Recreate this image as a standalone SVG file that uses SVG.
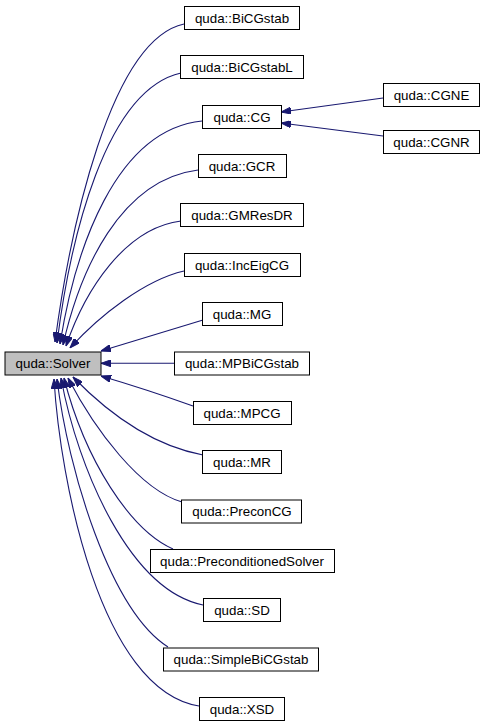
<svg xmlns="http://www.w3.org/2000/svg" width="486" height="727" viewBox="0 0 486 727">
<style>
.n rect{fill:#fff;stroke:#000;stroke-width:1}
.n text{font-family:"Liberation Sans",Arial,sans-serif;font-size:13.33px;text-anchor:middle;fill:#000}
#solver rect{fill:#bfbfbf}
.e path{fill:none;stroke:#191970;stroke-width:1.1;marker-start:url(#ah)}
</style>
<defs>
<marker id="ah" viewBox="0 0 10 7" refX="10" refY="3.5" markerWidth="10" markerHeight="7" markerUnits="userSpaceOnUse" orient="auto-start-reverse">
<polygon points="0,0 10,3.5 0,7" fill="#191970" stroke="#191970"/>
</marker>
</defs>
<rect width="486" height="727" fill="#fff"/>
<g class="e" id="edges">
<path d="M55,342 C70,230 110,40 184,24"/>
<path d="M57,343 C70,240 105,90 181,73"/>
<path d="M60,344 C75,250 115,130 202,121"/>
<path d="M63,345 C80,270 120,180 198,170"/>
<path d="M66,346 C85,290 125,228 181,221"/>
<path d="M70,348 C100,315 145,280 184,271"/>
<path d="M101,351 L203,320"/>
<path d="M101,363.3 L174,363.3"/>
<path d="M101,376 C135,386 165,396 193,406"/>
<path d="M73,377 C105,410 150,445 203,455"/>
<path d="M68,378 C95,430 140,490 182,502"/>
<path d="M64,378 C85,460 130,530 173,549"/>
<path d="M61,378 C78,470 130,590 203,605"/>
<path d="M57,379 C68,470 110,610 168,647"/>
<path d="M54,379 C60,480 100,690 199,706"/>
<path d="M281,112 L383,98"/>
<path d="M281,123 L383,136"/>
</g>
<g class="n" id="solver"><rect x="5" y="352" width="96" height="23"/><text x="53" y="368">quda::Solver</text></g>
<g class="n" id="n0"><rect x="184.5" y="6.5" width="115" height="23"/><text x="242" y="22.5">quda::BiCGstab</text></g>
<g class="n" id="n1"><rect x="180.5" y="55.5" width="123" height="23"/><text x="242" y="71.5">quda::BiCGstabL</text></g>
<g class="n" id="n2"><rect x="202.5" y="105.5" width="79" height="23"/><text x="242" y="121.5">quda::CG</text></g>
<g class="n" id="n3"><rect x="198.5" y="154.5" width="88" height="23"/><text x="242" y="170.5">quda::GCR</text></g>
<g class="n" id="n4"><rect x="180.5" y="203.5" width="123" height="23"/><text x="242" y="219.5">quda::GMResDR</text></g>
<g class="n" id="n5"><rect x="184.5" y="253.5" width="116" height="23"/><text x="242" y="269.5">quda::IncEigCG</text></g>
<g class="n" id="n6"><rect x="202.5" y="302.5" width="80" height="23"/><text x="242" y="318.5">quda::MG</text></g>
<g class="n" id="n7"><rect x="174.5" y="352" width="135" height="23"/><text x="242" y="368">quda::MPBiCGstab</text></g>
<g class="n" id="n8"><rect x="193.5" y="401.5" width="98" height="23"/><text x="242" y="417.5">quda::MPCG</text></g>
<g class="n" id="n9"><rect x="202.5" y="450.5" width="79" height="23"/><text x="242" y="466.5">quda::MR</text></g>
<g class="n" id="n10"><rect x="181.5" y="500" width="120" height="23"/><text x="242" y="516">quda::PreconCG</text></g>
<g class="n" id="n11"><rect x="150.5" y="549.5" width="184" height="23"/><text x="242" y="565.5">quda::PreconditionedSolver</text></g>
<g class="n" id="n12"><rect x="203.5" y="598.5" width="77" height="23"/><text x="242" y="614.5">quda::SD</text></g>
<g class="n" id="n13"><rect x="163.5" y="648" width="155" height="23"/><text x="241" y="664">quda::SimpleBiCGstab</text></g>
<g class="n" id="n14"><rect x="199.5" y="697.5" width="85" height="23"/><text x="242" y="713.5">quda::XSD</text></g>
<g class="n" id="n15"><rect x="383.5" y="83.5" width="96" height="23"/><text x="431.5" y="99.5">quda::CGNE</text></g>
<g class="n" id="n16"><rect x="383.5" y="130.5" width="96" height="23"/><text x="431.5" y="146.5">quda::CGNR</text></g>
</svg>
